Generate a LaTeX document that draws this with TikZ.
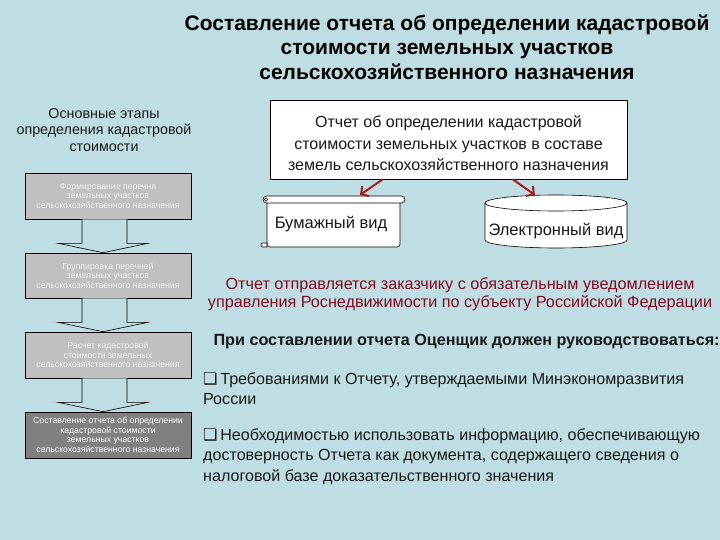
\documentclass[tikz,border=0pt]{standalone}
\usepackage{fontspec}
\setmainfont{Liberation Sans}
\newfontfamily\dejavu{DejaVu Sans}
\usetikzlibrary{calc,arrows.meta}
\definecolor{bg}{RGB}{190,222,227}
\definecolor{boxgray}{RGB}{192,192,192}
\definecolor{boxdark}{RGB}{128,128,128}
\definecolor{arrred}{RGB}{165,30,30}
\definecolor{txtred}{RGB}{130,10,30}
\definecolor{txt}{RGB}{25,25,25}
\tikzset{
  stagebox/.style={draw, line width=0.6pt, fill=boxgray, minimum width=166pt, minimum height=46pt,
    align=center, inner sep=1pt, text=white!94!black, font=\fontsize{8.7}{9.5}\selectfont},
  blockarr/.style={draw, line width=0.6pt, fill=bg},
  redarr/.style={draw=arrred, line width=2pt, -{Straight Barb[length=5.5pt,width=12pt]}},
}
\begin{document}
\begin{tikzpicture}[x=1pt,y=-1pt]
\fill[bg] (0,0) rectangle (720,540);
\useasboundingbox (0,0) rectangle (720,540);

% title
\node[font=\bfseries\fontsize{21}{24.5}\selectfont, align=center] (title) at (447,47)
  {Составление отчета об определении кадастровой\\стоимости земельных участков\\сельскохозяйственного назначения};

% left heading
\node[font=\fontsize{14.3}{16.5}\selectfont, align=center, text=txt] (lt) at (104,130)
  {Основные этапы\\определения кадастровой\\стоимости};

% stage boxes
\node[stagebox] (b1) at (108,196) {Формирование перечня\\земельных участков\\сельскохозяйственного назначения};
\node[stagebox, minimum height=45pt] (b2) at (108,275.5) {Группировка перечней\\земельных участков\\сельскохозяйственного назначения};
\node[stagebox] (b3) at (108,355) {Расчет кадастровой\\стоимости земельных\\сельскохозяйственного назначения};
\node[stagebox, fill=boxdark, text=white] (b4) at (108,435) {Составление отчета об определении\\кадастровой стоимости\\земельных участков\\сельскохозяйственного назначения};

\foreach \a/\b in {b1/b2, b2/b3, b3/b4}{
  \draw[blockarr] ($(\a.south)+(-26,0)$) -- ($(\a.south)+(-26,24)$) -- ($(\a.south)+(-50,24)$)
    -- ($(\b.north)+(-5,0)$) -- ($(\a.south)+(40,24)$) -- ($(\a.south)+(19,24)$) -- ($(\a.south)+(19,0)$);
}

% report box
\node[draw, line width=0.6pt, fill=white, minimum width=357pt, minimum height=79pt] (r) at (448.5,139.5) {};
\node[align=center, text=txt, font=\fontsize{16}{21.5}\selectfont] (rt) at (448.5,143.5)
  {Отчет об определении кадастровой\\стоимости земельных участков в составе\\земель сельскохозяйственного назначения};

% paper scroll
\draw[line width=0.6pt, fill=white, rounded corners=3pt] (267,201) -- (267,247) -- (400,247) -- (400,201);
\draw[line width=0.6pt, fill=white] (263,243) -- (267,243) -- (267,247) -- (263,247) arc[start angle=270, end angle=90, radius=2pt];
\draw[line width=0.6pt, fill=white, rounded corners=3.5pt] (263,196) rectangle (405,203);
\draw[line width=0.5pt] (266,199.5) circle[radius=1.8pt];
\node[font=\fontsize{16.5}{18}\selectfont, text=txt] (paper) at (331,224) {Бумажный вид};

% cylinder
\draw[line width=0.6pt, fill=white] (485,203) -- (485,240) arc[start angle=180, end angle=360, x radius=71pt, y radius=8pt]
  -- (627,203) arc[start angle=0, end angle=180, x radius=71pt, y radius=8pt] -- cycle;
\draw[line width=0.6pt] (485,203) arc[start angle=180, end angle=360, x radius=71pt, y radius=8pt];
\node[font=\fontsize{16.5}{18}\selectfont, text=txt] (cyl) at (556,231) {Электронный вид};

\coordinate (ptop) at (360,195);
\coordinate (ctop) at (535,195);
\draw[redarr] ($(r.south west)+(113,0)$) -- (ptop);
\draw[redarr] ($(r.south west)+(243,0)$) -- (ctop);

% notes
\node[text=txtred, font=\fontsize{16.2}{18.5}\selectfont, align=center] (note) at (460,294)
  {Отчет отправляется заказчику с обязательным уведомлением\\управления Роснедвижимости по субъекту Российской Федерации};

\node[font=\bfseries\fontsize{16.2}{18}\selectfont, text=txt, anchor=west] (lead) at (210,342)
  {При составлении отчета Оценщик должен руководствоваться:};

\node[anchor=north west, align=left, inner sep=0pt, text=txt, font=\fontsize{16.1}{20}\selectfont] (q1) at (203,372)
  {{\dejavu\bfseries ❑}\,Требованиями к Отчету, утверждаемыми Минэкономразвития\\России};
\node[anchor=north west, align=left, inner sep=0pt, text=txt, font=\fontsize{16.1}{20.5}\selectfont] (q2) at (203,428)
  {{\dejavu\bfseries ❑}\,Необходимостью использовать информацию, обеспечивающую\\достоверность Отчета как документа, содержащего сведения о\\налоговой базе доказательственного значения};
\end{tikzpicture}
\end{document}
